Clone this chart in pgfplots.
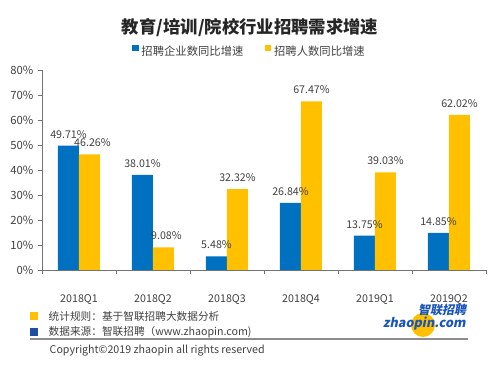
\documentclass[border=0pt]{standalone}
\usepackage{pgfplots}
\pgfplotsset{compat=1.18}
\usepackage{fontspec}
\setmainfont{Noto Sans CJK SC}
\definecolor{cblue}{HTML}{0070C0}
\definecolor{cyel}{HTML}{FFC000}
\definecolor{noteblue}{HTML}{1F4E9F}
\definecolor{logoblue}{HTML}{1A56B8}
\definecolor{txt}{HTML}{404040}
\begin{document}
\begin{tikzpicture}[x=0.75pt,y=0.75pt]
\path[use as bounding box] (0,0) rectangle (500,370);
\node[font=\bfseries\fontsize{13}{15}\selectfont, text=black!85] at (250,342) {教育/培训/院校行业招聘需求增速};
\begin{axis}[
  at={(31.5pt,75pt)}, anchor=south west,
  scale only axis, width=333pt, height=150pt,
  ybar=0pt, bar width=15.75pt,
  xmin=-0.5, xmax=5.5, ymin=0, ymax=80,
  axis lines=left,
  axis line style={-, draw=black!55},
  tick style={draw=black!55},
  tick align=outside,
  xtick={0,1,2,3,4,5},
  xticklabels={2018Q1,2018Q2,2018Q3,2018Q4,2019Q1,2019Q2},
  major x tick style={draw=none},
  minor xtick={-0.5,0.5,1.5,2.5,3.5,4.5,5.5},
  minor tick length=3pt,
  major tick length=3pt,
  xticklabel style={font=\fontsize{8}{9}\selectfont, text=txt, yshift=-12pt},
  ytick={0,10,...,80},
  yticklabel={\pgfmathprintnumber[assume math mode=true]{\tick}\%},
  yticklabel style={font=\fontsize{8.5}{9}\selectfont, text=txt},
  point meta=explicit symbolic,
  nodes near coords,
  nodes near coords style={font=\fontsize{8}{9}\selectfont, text=txt, anchor=south, yshift=2pt},
  legend style={at={(0.468,1.09)}, anchor=center, draw=none, fill=none,
    legend columns=2, font=\fontsize{8.5}{10}\selectfont, text=txt,
    /tikz/every even column/.append style={column sep=14pt}},
  legend image code/.code={\fill[#1] (0pt,0.5pt) rectangle (5pt,5.5pt);},
  clip=false,
]
\addplot[fill=cblue, draw=none] coordinates {
 (0,49.71) [49.71\%]
 (1,38.01) [38.01\%]
 (2,5.48) [5.48\%]
 (3,26.84) [26.84\%]
 (4,13.75) [13.75\%]
 (5,14.85) [14.85\%]
};
\addplot[fill=cyel, draw=none] coordinates {
 (0,46.26) [\hphantom{0}46.26\%]
 (1,9.08) [\hphantom{0}9.08\%]
 (2,32.32) [32.32\%]
 (3,67.47) [67.47\%]
 (4,39.03) [39.03\%]
 (5,62.02) [62.02\%]
};
\legend{招聘企业数同比增速,招聘人数同比增速}
\end{axis}
\fill[cyel] (30,50) rectangle (38,58);
\node[anchor=west, font=\fontsize{8}{9}\selectfont, text=txt] at (44,54) {统计规则：基于智联招聘大数据分析};
\fill[noteblue] (30,34) rectangle (38,42);
\node[anchor=west, font=\fontsize{8}{9}\selectfont, text=txt] at (44,38) {数据来源：智联招聘（www.zhaopin.com)};
\draw[black!45, line width=0.8pt] (30,31) -- (468,31);
\node[anchor=west, font=\fontsize{8}{9}\selectfont, text=txt] at (45,19) {Copyright©2019 zhaopin all rights reserved};
\fill[cyel] (423,45) circle (12);
\node[font=\bfseries\fontsize{9}{10}\selectfont, text=logoblue, xslant=0.2] at (443,60) {智联招聘};
\node[font=\bfseries\fontsize{9.5}{10}\selectfont, text=logoblue, xslant=0.2] at (425,46) {zhaopin.com};
\end{tikzpicture}
\end{document}
